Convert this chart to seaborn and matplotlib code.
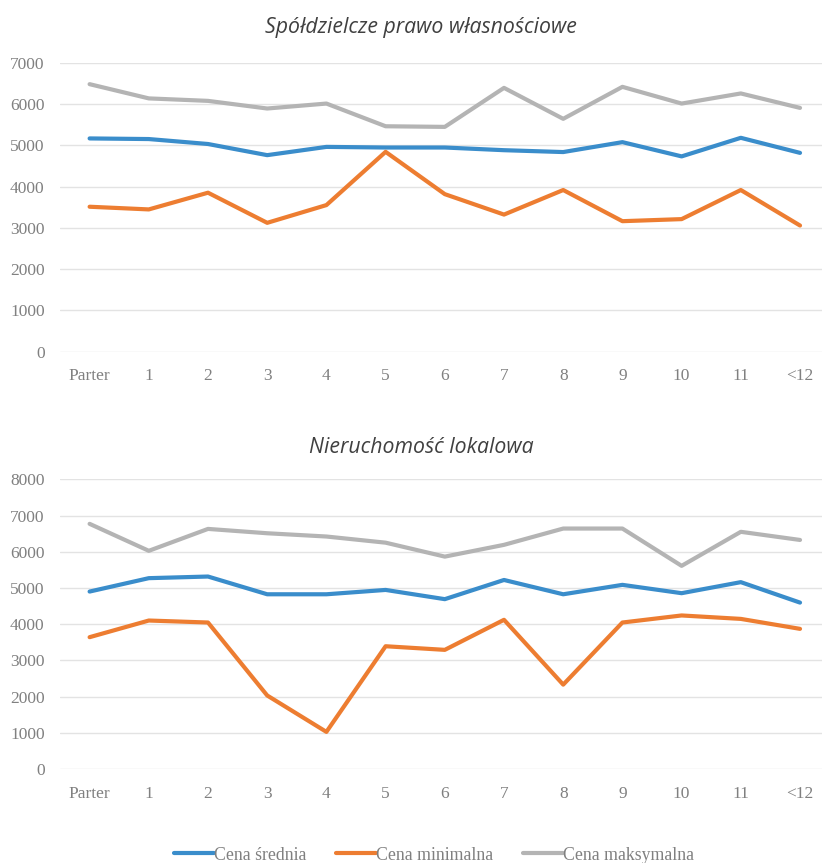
import numpy as np
import pandas as pd
import matplotlib
matplotlib.use("Agg")
import matplotlib.pyplot as plt
import seaborn as sns

floors = ["Parter", "1", "2", "3", "4", "5", "6", "7", "8", "9", "10", "11", "<12"]
series_names = ["Cena średnia", "Cena minimalna", "Cena maksymalna"]

# Spółdzielcze prawo własnościowe
coop_avg = [5165, 5150, 5030, 4760, 4960, 4945, 4945, 4880, 4835, 5075, 4730, 5180, 4815]
coop_min = [3510, 3445, 3850, 3120, 3550, 4840, 3815, 3320, 3915, 3160, 3210, 3915, 3055]
coop_max = [6480, 6135, 6075, 5890, 6010, 5460, 5445, 6390, 5640, 6415, 6010, 6255, 5905]

# Nieruchomość lokalowa
prop_avg = [4900, 5270, 5315, 4825, 4825, 4945, 4690, 5220, 4825, 5085, 4855, 5160, 4595]
prop_min = [3640, 4100, 4045, 2030, 1025, 3390, 3290, 4120, 2330, 4045, 4240, 4145, 3870]
prop_max = [6770, 6025, 6630, 6510, 6420, 6250, 5865, 6190, 6640, 6640, 5610, 6550, 6325]

titles = ["Spółdzielcze prawo własnościowe", "Nieruchomość lokalowa"]
y_limits = [7000, 8000]

palette = {"Cena średnia": "#3A8DCB", "Cena minimalna": "#ED7D31", "Cena maksymalna": "#B4B4B4"}


def long_frame(avg, mn, mx):
    rows = []
    for name, vals in zip(series_names, (avg, mn, mx)):
        for i, v in enumerate(vals):
            rows.append({"pos": i, "floor": floors[i], "series": name, "value": v})
    return pd.DataFrame(rows)


frames = [long_frame(coop_avg, coop_min, coop_max),
          long_frame(prop_avg, prop_min, prop_max)]

sns.set_theme(style="white")
plt.rcParams["font.family"] = ["DejaVu Sans"]

fig = plt.figure(figsize=(8.22, 8.63), dpi=100)
W, H = 822, 863
# axes boxes in pixel coordinates: (left, top, right, bottom)
boxes = [(60, 62.7, 822, 351.6), (60, 479.3, 822, 769.0)]
title_y = [28, 447]

tick_color = "#808080"
serif = ["Liberation Serif", "DejaVu Serif"]

for df, box, ttl, ty, ymax in zip(frames, boxes, titles, title_y, y_limits):
    l, t, r, b = box
    ax = fig.add_axes([l / W, 1 - b / H, (r - l) / W, (b - t) / H])
    sns.lineplot(data=df, x="pos", y="value", hue="series", palette=palette,
                 hue_order=series_names, linewidth=3.0, sort=False, ax=ax,
                 legend=False, zorder=3)
    ax.set_ylim(0, ymax)
    ax.set_xlim(-0.5, (822 - 89) / 59.25)
    ax.set_yticks(np.arange(0, ymax + 1, 1000))
    ax.set_xticks(range(len(floors)))
    ax.set_xticklabels(floors)
    ax.set_xlabel("")
    ax.set_ylabel("")
    ax.grid(axis="y", color="#E3E3E3", linewidth=1.0, zorder=0)
    ax.grid(axis="x", visible=False)
    for s in ax.spines.values():
        s.set_visible(False)
    ax.tick_params(axis="both", length=0, labelsize=12.5, colors=tick_color)
    ax.tick_params(axis="y", pad=11)
    ax.tick_params(axis="x", pad=12)
    for lab in ax.get_xticklabels() + ax.get_yticklabels():
        lab.set_fontfamily(serif)
    fig.text(421 / W, 1 - ty / H, ttl, ha="center", va="center",
             fontsize=15.3, style="italic", color="#404040",
             family=["Open Sans", "DejaVu Sans"])

handles = [plt.Line2D([0], [0], color=palette[n], linewidth=3.0) for n in series_names]
fig.legend(handles, series_names, loc="center", bbox_to_anchor=(434 / W, 1 - 855 / H),
           ncol=3, frameon=False, handlelength=2.25, handletextpad=0.0,
           columnspacing=1.7, prop={"family": serif, "size": 12.8},
           labelcolor=tick_color)

fig.savefig("out.png", dpi=100, facecolor="white")
